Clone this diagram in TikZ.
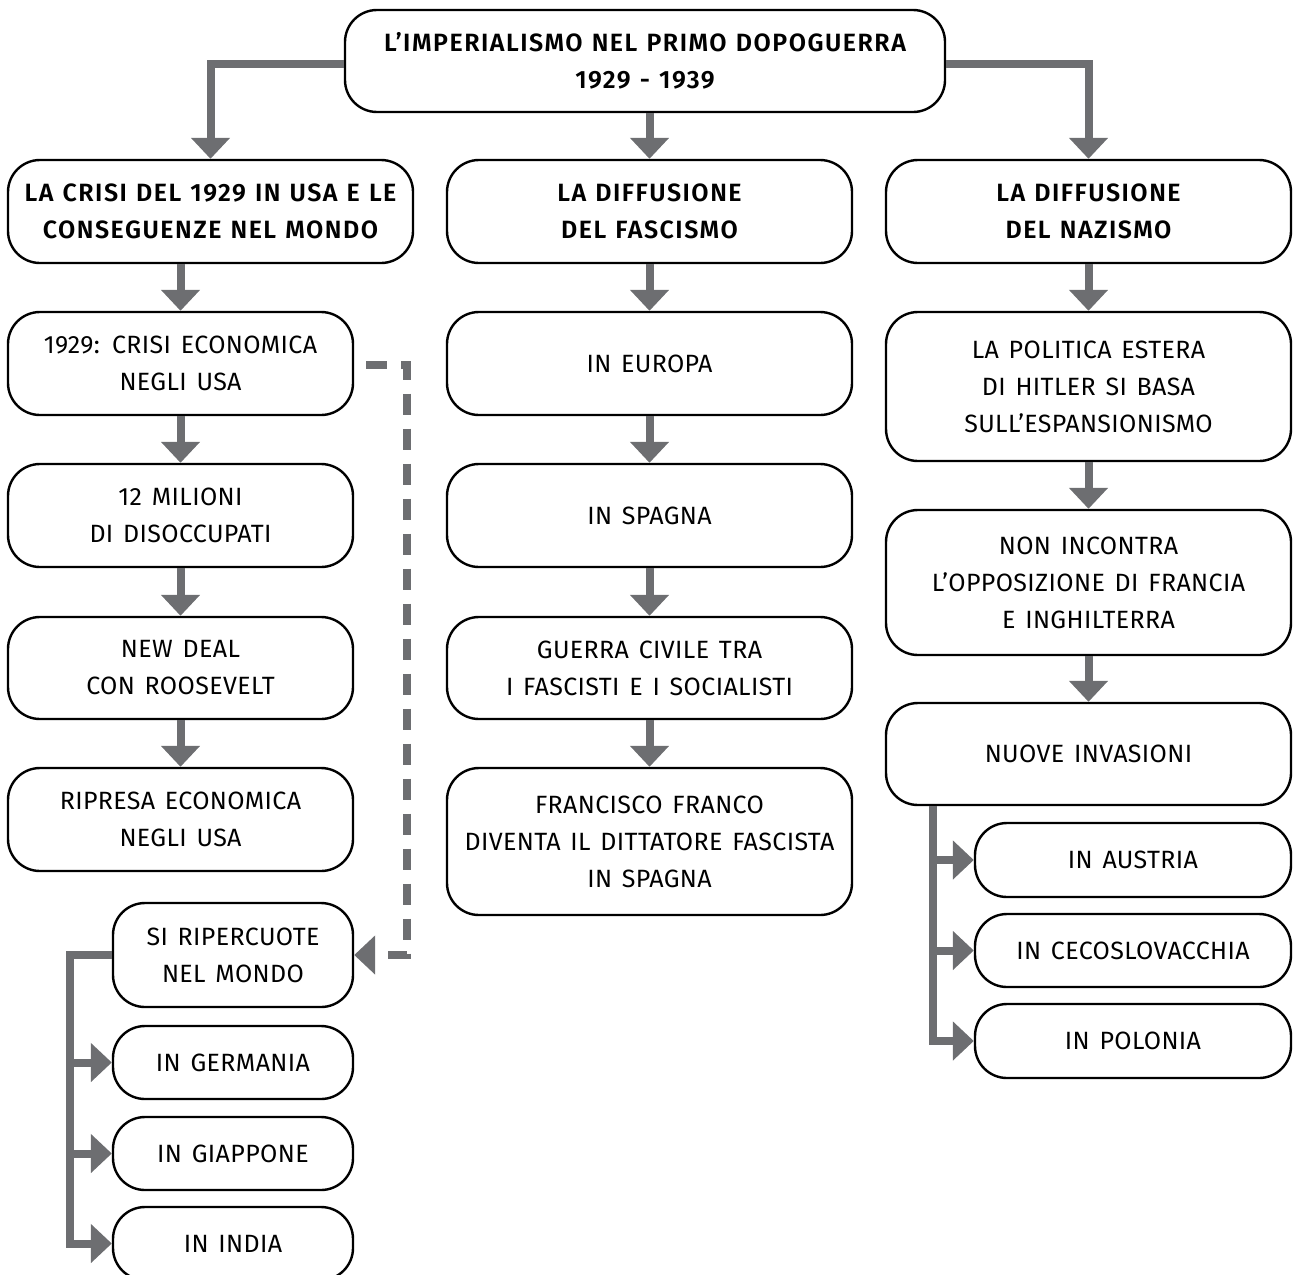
\documentclass[tikz,border=0pt]{standalone}
\usepackage{fontspec}
\setmainfont{Fira Sans}[LetterSpace=1.5,WordSpace=1.4]
\newfontfamily\hfont{Fira Sans SemiBold}[LetterSpace=6,WordSpace=1.2]
\usetikzlibrary{arrows.meta,calc}
\definecolor{cgray}{HTML}{6D6E71}
\tikzset{
  box/.style={draw=black, line width=2.4pt, rounded corners=32pt, fill=white, inner sep=0pt, align=center,
    font=\fontsize{25}{37}\selectfont},
  hbox/.style={box, font=\fontsize{25}{37}\selectfont\hfont},
  gline/.style={draw=cgray, line width=8pt},
  arr/.style={gline, -{Triangle[width=38pt,length=21pt]}},
  dline/.style={draw=cgray, line width=8pt, dash pattern=on 21pt off 14pt, -{Triangle[width=38pt,length=21pt]}},
}
\begin{document}
\begin{tikzpicture}[x=1pt,y=-1pt]
\useasboundingbox (0,0) rectangle (1297,1274);
\clip (0,0) rectangle (1297,1274);
% top
\node[hbox, minimum width=600pt, minimum height=102pt] (top) at (645,61) {L’IMPERIALISMO NEL PRIMO DOPOGUERRA\\1929 - 1939};
% row 2
\node[hbox, minimum width=405pt, minimum height=103pt] (crisi) at (210.5,211.5) {LA CRISI DEL 1929 IN USA E LE\\CONSEGUENZE NEL MONDO};
\node[hbox, minimum width=405pt, minimum height=103pt] (fasc) at (649.5,211.5) {LA DIFFUSIONE\\DEL FASCISMO};
\node[hbox, minimum width=405pt, minimum height=103pt] (naz) at (1088.5,211.5) {LA DIFFUSIONE\\DEL NAZISMO};
% left column
\node[box, minimum width=345pt, minimum height=103pt] (b1) at (180.5,363.5) {1929: CRISI ECONOMICA\\NEGLI USA};
\node[box, minimum width=345pt, minimum height=103pt] (b2) at (180.5,515.5) {12 MILIONI\\DI DISOCCUPATI};
\node[box, minimum width=345pt, minimum height=102pt] (b3) at (180.5,668) {NEW DEAL\\CON ROOSEVELT};
\node[box, minimum width=345pt, minimum height=103pt] (b4) at (180.5,819.5) {RIPRESA ECONOMICA\\NEGLI USA};
\node[box, minimum width=240pt, minimum height=104pt] (rip) at (233,955) {SI RIPERCUOTE\\NEL MONDO};
\node[box, minimum width=240pt, minimum height=73pt] (germ) at (233,1062.5) {IN GERMANIA};
\node[box, minimum width=240pt, minimum height=73pt] (giap) at (233,1153.5) {IN GIAPPONE};
\node[box, minimum width=240pt, minimum height=73pt] (india) at (233,1243.5) {IN INDIA};
% middle column
\node[box, minimum width=405pt, minimum height=103pt] (m1) at (649.5,363.5) {IN EUROPA};
\node[box, minimum width=405pt, minimum height=103pt] (m2) at (649.5,515.5) {IN SPAGNA};
\node[box, minimum width=405pt, minimum height=102pt] (m3) at (649.5,668) {GUERRA CIVILE TRA\\I FASCISTI E I SOCIALISTI};
\node[box, minimum width=405pt, minimum height=147pt] (m4) at (649.5,841.5) {FRANCISCO FRANCO\\DIVENTA IL DITTATORE FASCISTA\\IN SPAGNA};
% right column
\node[box, minimum width=405pt, minimum height=149pt] (r1) at (1088.5,386.5) {LA POLITICA ESTERA\\DI HITLER SI BASA\\SULL’ESPANSIONISMO};
\node[box, minimum width=405pt, minimum height=145pt] (r2) at (1088.5,582.5) {NON INCONTRA\\L’OPPOSIZIONE DI FRANCIA\\E INGHILTERRA};
\node[box, minimum width=405pt, minimum height=102pt] (r3) at (1088.5,754) {NUOVE INVASIONI};
\node[box, minimum width=316pt, minimum height=74pt] (aus) at (1133,860) {IN AUSTRIA};
\node[box, minimum width=316pt, minimum height=73pt] (ceco) at (1133,950.5) {IN CECOSLOVACCHIA};
\node[box, minimum width=316pt, minimum height=74pt] (pol) at (1133,1041) {IN POLONIA};
\coordinate (xl) at (70,0);
\coordinate (xr) at (933,0);
% connectors from top
\draw[arr] ([yshift=-3pt]top.west) -| (crisi.north);
\draw[arr] (fasc.north |- top.south) -- (fasc.north);
\draw[arr] ([yshift=-3pt]top.east) -| (naz.north);
% left column
\draw[arr] (b1.north |- crisi.south) -- (b1.north);
\draw[arr] (b1.south) -- (b2.north);
\draw[arr] (b2.south) -- (b3.north);
\draw[arr] (b3.south) -- (b4.north);
\draw[dline] ([xshift=12pt,yshift=-1pt]b1.east) -- ++(41,0) |- (rip.east);
\draw[gline] (rip.west) -| (xl |- germ.west);
\draw[arr] (rip.west) -| (xl |- india.west) -- (india.west);
\draw[arr] (xl |- germ.west) -- (germ.west);
\draw[arr] (xl |- giap.west) -- (giap.west);
% middle column
\draw[arr] (fasc.south) -- (m1.north);
\draw[arr] (m1.south) -- (m2.north);
\draw[arr] (m2.south) -- (m3.north);
\draw[arr] (m3.south) -- (m4.north);
% right column
\draw[arr] (naz.south) -- (r1.north);
\draw[arr] (r1.south) -- (r2.north);
\draw[arr] (r2.south) -- (r3.north);
\draw[arr] (xr |- r3.south) -- (xr |- pol.west) -- (pol.west);
\draw[arr] (xr |- aus.west) -- (aus.west);
\draw[arr] (xr |- ceco.west) -- (ceco.west);
\end{tikzpicture}
\end{document}
